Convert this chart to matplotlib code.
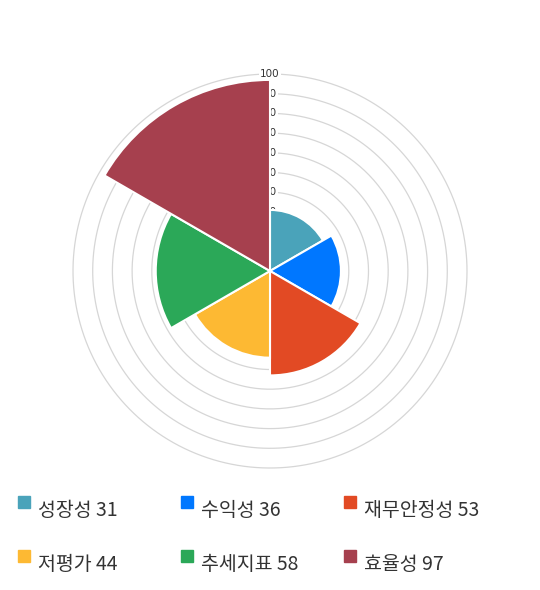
import numpy as np
import matplotlib.pyplot as plt
from matplotlib.patches import Rectangle

plt.rcParams['font.family'] = ['Noto Sans CJK KR', 'DejaVu Sans']

labels = ['성장성', '수익성', '재무안정성', '저평가', '추세지표', '효율성']
values = [31, 36, 53, 44, 58, 97]
colors = ['#4aa3ba', '#0077ff', '#e24a24', '#fdb933', '#2ba858', '#a6404e']
ticks = [10, 20, 30, 40, 50, 60, 70, 80, 90, 100]

W, H = 540, 590
fig = plt.figure(figsize=(W / 100, H / 100), dpi=100)

cx, cy, R = 270, 271, 197
ax = fig.add_axes([(cx - R) / W, (H - cy - R) / H, 2 * R / W, 2 * R / H], projection='polar')
ax.set_theta_zero_location('N')
ax.set_theta_direction(-1)
ax.set_ylim(0, 100)
ax.grid(False)
ax.set_xticks([])
ax.set_yticks([])
ax.spines['polar'].set_visible(False)

# grid circles
th = np.linspace(0, 2 * np.pi, 400)
for t in ticks:
    ax.plot(th, np.full_like(th, t), color='#d6d6d6', lw=0.9, zorder=1, clip_on=False)

# tick labels (partly hidden under the wedges, like the original)
for t in ticks:
    ax.text(0, t, str(t), ha='center', va='center', fontsize=7.5, color='#333333',
            family=['DejaVu Sans'], zorder=2,
            bbox=dict(boxstyle='square,pad=0.1', fc='white', ec='none'))

n = len(values)
theta = np.arange(n) * 2 * np.pi / n
ax.bar(theta, values, width=2 * np.pi / n, align='edge', color=colors,
       edgecolor='white', linewidth=1.5, zorder=3)

# legend
col_x = [18, 181, 344]
row_y = [502, 556]
for i, (lab, val, c) in enumerate(zip(labels, values, colors)):
    x = col_x[i % 3]
    y = row_y[i // 3]
    fig.add_artist(Rectangle((x / W, (H - y - 6) / H), 12 / W, 12 / H,
                             transform=fig.transFigure, color=c))
    fig.text((x + 20) / W, (H - y - 8) / H, f'{lab} {val}', fontsize=14,
             color='#333333', ha='left', va='center')

fig.savefig('out.png', dpi=100)
